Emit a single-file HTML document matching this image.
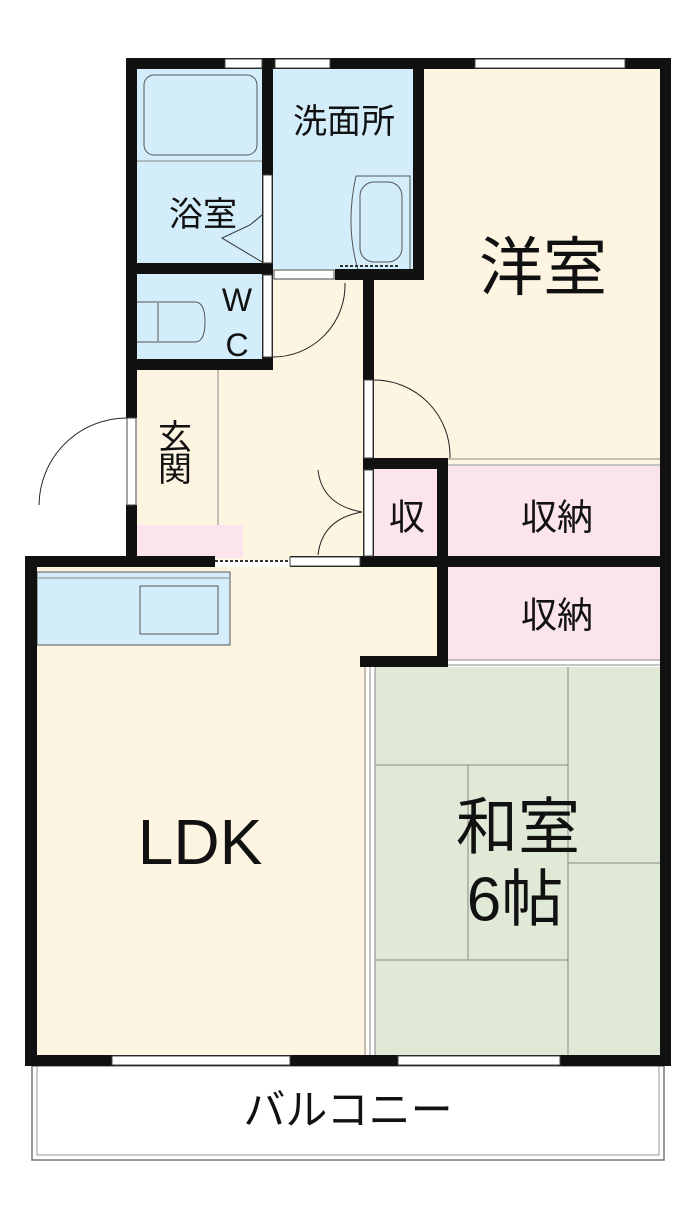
<!DOCTYPE html>
<html><head><meta charset="utf-8"><style>
body{margin:0;background:#fff}
svg{display:block}
text{font-family:"Liberation Sans","Noto Sans CJK JP",sans-serif;fill:#111;text-anchor:middle;dominant-baseline:central}
</style></head><body>
<svg width="700" height="1217" viewBox="0 0 700 1217" xmlns="http://www.w3.org/2000/svg">
<rect x="424" y="69" width="240" height="395" fill="#fdf5e2"/>
<rect x="374" y="270" width="60" height="194" fill="#fdf5e2"/>
<rect x="137" y="69" width="276" height="200" fill="#d3eefa"/>
<rect x="137" y="274" width="130" height="90" fill="#d3eefa"/>
<rect x="137" y="364" width="230" height="196" fill="#fdf5e2"/>
<rect x="267" y="274" width="100" height="100" fill="#fdf5e2"/>
<rect x="137" y="525" width="106" height="33" fill="#fce4ee"/>
<rect x="374" y="466" width="66" height="94" fill="#fce4ee"/>
<rect x="448" y="466" width="214" height="94" fill="#fce4ee"/>
<rect x="448" y="567" width="214" height="93" fill="#fce4ee"/>
<rect x="37" y="567" width="330" height="490" fill="#fdf5e2"/>
<rect x="360" y="567" width="80" height="92" fill="#fdf5e2"/>
<rect x="375" y="667" width="286" height="390" fill="#e0e8d6"/>
<g stroke="#888" stroke-width="1" fill="none">
<line x1="568" y1="667" x2="568" y2="1055"/>
<line x1="375" y1="765" x2="568" y2="765"/>
<line x1="568" y1="863" x2="660" y2="863"/>
<line x1="468" y1="765" x2="468" y2="960"/>
<line x1="375" y1="960" x2="568" y2="960"/>
<line x1="365" y1="667" x2="365" y2="1055"/>
<line x1="370" y1="667" x2="370" y2="1055"/>
<line x1="375" y1="667" x2="375" y2="1055"/>
<line x1="448" y1="459" x2="660" y2="459"/>
<line x1="448" y1="465" x2="660" y2="465"/>
<line x1="448" y1="660" x2="660" y2="660"/>
<line x1="448" y1="665" x2="660" y2="665"/>
<rect x="37" y="572" width="193" height="73" fill="#d3eefa" stroke="#555"/>
<line x1="37" y1="578" x2="230" y2="578"/>
<rect x="140" y="586" width="78" height="48" stroke="#555"/>
<rect x="144" y="75" width="113" height="80" rx="10" stroke="#555"/>
<line x1="137" y1="161" x2="262" y2="161"/>
<polyline points="262,215 250,225 222,238 262,262" stroke="#333"/>
<path d="M356 176 L410 176 L410 270 L358 270 Q345 225 356 176Z" stroke="#555"/>
<rect x="360" y="182" width="42" height="80" rx="14" stroke="#555"/>
<path d="M137 302 L195 302 Q205 302 205 322 Q205 342 195 342 L137 342" stroke="#555"/>
<line x1="158" y1="303" x2="158" y2="341" stroke="#555"/>
<path d="M127 418 A88 88 0 0 0 39 505" stroke="#222"/>
<path d="M273 357 A72 72 0 0 0 345 283" stroke="#222"/>
<path d="M374 380 A76 76 0 0 1 450 458" stroke="#222"/>
<path d="M362 512 Q322 505 318 470" stroke="#222"/>
<path d="M362 512 Q322 519 318 555" stroke="#222"/>
<line x1="218" y1="370" x2="218" y2="525"/>
<rect x="32" y="1066" width="632" height="94" stroke="#777" stroke-width="1.5"/>
<rect x="37" y="1066" width="622" height="89" stroke="#999"/>
</g>
<g fill="#111">
<rect x="126" y="58" width="545" height="11"/>
<rect x="126" y="58" width="11" height="360"/>
<rect x="126" y="505" width="11" height="60"/>
<rect x="262" y="58" width="11" height="312"/>
<rect x="413" y="58" width="11" height="222"/>
<rect x="126" y="263" width="147" height="11"/>
<rect x="126" y="359" width="147" height="11"/>
<rect x="335" y="269" width="89" height="11"/>
<rect x="363" y="269" width="11" height="297"/>
<rect x="363" y="458" width="85" height="11"/>
<rect x="437" y="458" width="11" height="209"/>
<rect x="660" y="58" width="11" height="1008"/>
<rect x="25" y="556" width="190" height="11"/>
<rect x="290" y="556" width="158" height="11"/>
<rect x="437" y="556" width="234" height="11"/>
<rect x="360" y="656" width="88" height="11"/>
<rect x="25" y="556" width="12" height="510"/>
<rect x="25" y="1055" width="646" height="11"/>
</g>
<g fill="#fff" stroke="#444" stroke-width="1">
<rect x="225" y="59" width="37" height="9"/>
<rect x="275" y="59" width="55" height="9"/>
<rect x="475" y="59" width="150" height="9"/>
<rect x="263" y="175" width="9" height="88"/>
<rect x="263" y="275" width="9" height="82"/>
<rect x="127" y="418" width="9" height="87"/>
<rect x="364" y="380" width="9" height="78"/>
<rect x="364" y="470" width="9" height="86"/>
<rect x="290" y="557" width="70" height="9"/>
<rect x="112" y="1056" width="178" height="9"/>
<rect x="398" y="1056" width="162" height="9"/>
<rect x="274" y="270" width="60" height="9"/>
</g>
<g stroke="#333" stroke-dasharray="3,2" stroke-width="2">
<line x1="215" y1="561" x2="290" y2="561"/>
<line x1="340" y1="266" x2="400" y2="266"/>
</g>
<text x="543" y="268" font-size="64">洋室</text>
<text x="344" y="122" font-size="34">洗面所</text>
<text x="203" y="215" font-size="34">浴室</text>
<text x="237" y="300" font-size="32">W</text>
<text x="237" y="345" font-size="32">C</text>
<text x="175" y="438" font-size="34">玄</text>
<text x="175" y="470" font-size="34">関</text>
<text x="407" y="517" font-size="36">収</text>
<text x="557" y="517" font-size="36">収納</text>
<text x="557" y="615" font-size="36">収納</text>
<text x="200" y="842" font-size="64">LDK</text>
<text x="518" y="828" font-size="62">和室</text>
<text x="515" y="900" font-size="62">6帖</text>
<text x="348" y="1110" font-size="42">バルコニー</text>
</svg>
</body></html>
